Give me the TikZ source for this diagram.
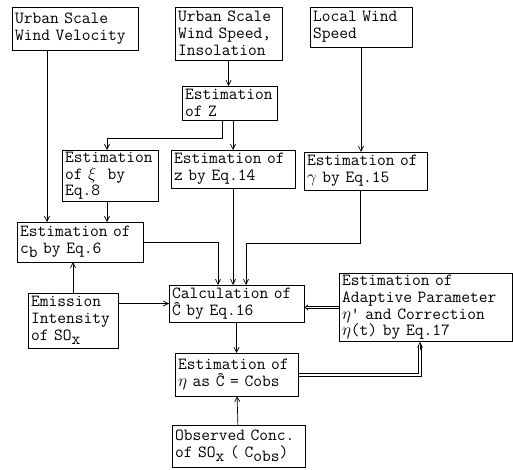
\documentclass[tikz,border=0pt]{standalone}
\usepackage{fontspec}
\usetikzlibrary{arrows.meta, positioning, calc}
\newcommand{\lowr}[1]{\raisebox{-0.55ex}{#1}}

\begin{document}
\begin{tikzpicture}[
    x=1pt, y=-1pt,
    box/.style={rectangle, draw=black, line width=0.9pt, anchor=north west, align=left, inner xsep=3pt, inner ysep=2pt, outer sep=0pt, font=\ttfamily\fontsize{17}{16.8}\selectfont},
    arr/.style={-{Straight Barb[length=5pt, width=5pt]}, line width=0.7pt},
    dbl/.style={-{Implies[length=4pt]}, double, double distance=1.1pt, line width=0.8pt},
    rail/.style={line width=0.8pt}
]
\useasboundingbox (0,0) rectangle (513,469);

% -- INPUT DATA --
\node[box, text width=120pt, minimum height=43pt] (wv) at (12,7) {Urban Scale\\Wind Velocity};
\node[box, text width=101pt, minimum height=53pt] (ws) at (175,7) {Urban Scale\\Wind Speed,\\Insolation};
\node[box, text width=96pt, minimum height=40pt] (lw) at (310,7) {Local Wind\\Speed};

% -- ESTIMATION STEPS --
\node[box, text width=89pt, minimum height=34pt] (estZ) at (182,86) {Estimation\\of Z};
\node[box, text width=90pt, minimum height=50pt] (xi) at (62,150) {Estimation\\of $\xi$\ \ by\\Eq.8};
\node[box, text width=118pt, minimum height=38pt] (zz) at (171,150) {Estimation of\\z by Eq.14};
\node[box, text width=117pt, minimum height=38pt] (gam) at (304,152) {Estimation of\\$\gamma$ by Eq.15};
\node[box, text width=120pt, minimum height=40pt] (cb) at (17,222) {Estimation of\\c\lowr{b} by Eq.6};
\node[box, text width=84pt, minimum height=55pt] (emis) at (28,293) {Emission\\Intensity\\of SO\lowr{x}};

% -- CALCULATION AND ADAPTATION --
\node[box, text width=129pt, minimum height=37pt] (calc) at (169,285) {Calculation of\\\^C by Eq.16};
\node[box, text width=167pt, minimum height=67pt] (adapt) at (339,273) {Estimation of\\Adaptive Parameter\\$\eta$' and Correction\\$\eta$(t) by Eq.17};
\node[box, text width=117pt, minimum height=43pt] (eta) at (175,353) {Estimation of\\$\eta$ as \^C = Cobs};
\node[box, text width=127pt, minimum height=42pt] (obs) at (172,425) {Observed Conc.\\of SO\lowr{x} ( C\lowr{obs})};

% -- CONNECTORS --
\draw[arr] (ws.south) -- (ws.south |- estZ.north);
\draw[arr] ($(estZ.south west)+(40,0)$) -- ++(0,18) -| ($(xi.north west)+(45,0)$);
\draw[arr] (estZ.south -| zz.north) -- (zz.north);
\draw[arr] (lw.south) -- (lw.south |- gam.north);

\draw[arr] ($(wv.south west)+(35,0)$) -- ($(cb.north west)+(30,0)$);
\draw[arr] ($(xi.south west)+(45,0)$) -- ($(cb.north west)+(90,0)$);
\draw[arr] (emis.north) -- (emis.north |- cb.south);

\draw[arr] (cb.east) -| ($(calc.north west)+(49,0)$);
\draw[arr] (zz.south) -- (zz.south |- calc.north);
\draw[arr] ($(gam.south west)+(56,0)$) -- ++(0,53) -| ($(calc.north west)+(77,0)$);
\draw[arr] (emis.east |- calc.west) -- (calc.west);

% -- ADAPTIVE LOOP --
\coordinate (loop) at ($(adapt.south west)+(81,0)$);
\draw[dbl] (adapt.west) -- (adapt.west -| calc.east);
\draw[arr] (calc) -- (eta);
\draw[arr] (obs) -- (eta);
\draw[rail] ($(eta.east)+(0,-1.4)$) -| ($(loop)+(-1.4,3)$);
\draw[rail] ($(eta.east)+(0,1.4)$) -| ($(loop)+(1.4,3)$);
\draw[arr] ($(loop)+(0,8)$) -- (loop);

\end{tikzpicture}
\end{document}
